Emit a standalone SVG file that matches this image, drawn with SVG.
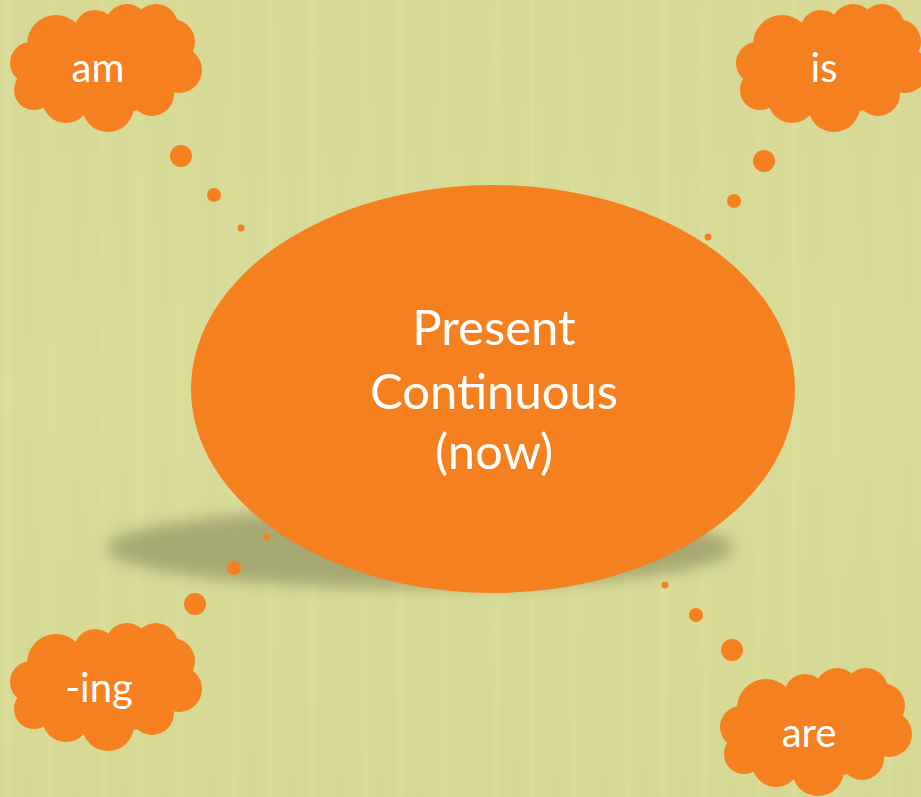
<svg xmlns="http://www.w3.org/2000/svg" width="921" height="797" viewBox="0 0 921 797">
  <style>
    .org { fill: #f5801f; }
    .lbl { font-family: Lato, "Open Sans", "Liberation Sans", sans-serif; fill: #ffffff; text-anchor: middle; }
    .cl { font-size: 40px; }
    .main { font-size: 49px; }
  </style>
  <defs>
    <filter id="blur" x="-20%" y="-50%" width="140%" height="200%">
      <feGaussianBlur stdDeviation="8"/>
    </filter>
    <filter id="soft" x="0" y="0" width="100%" height="100%">
      <feGaussianBlur stdDeviation="2 0"/>
    </filter>
    <linearGradient id="bg" x1="0" y1="0" x2="0" y2="1">
      <stop offset="0" stop-color="#d7da96"/>
      <stop offset="0.5" stop-color="#d9dc98"/>
      <stop offset="1" stop-color="#d6d993"/>
    </linearGradient>
    <pattern id="streaks" x="0" y="0" width="131" height="797" patternUnits="userSpaceOnUse">
      <rect x="6" y="0" width="4" height="797" fill="#e4e7a4" opacity="0.35"/>
      <rect x="29" y="0" width="2" height="797" fill="#c8cb88" opacity="0.25"/>
      <rect x="47" y="0" width="6" height="797" fill="#e2e5a2" opacity="0.3"/>
      <rect x="78" y="0" width="2" height="797" fill="#cacd8a" opacity="0.25"/>
      <rect x="101" y="0" width="5" height="797" fill="#e3e6a3" opacity="0.3"/>
      <rect x="120" y="0" width="2" height="797" fill="#c9cc89" opacity="0.2"/>
    </pattern>
    <g id="cloud">
      <circle cx="21" cy="59" r="21"/>
      <circle cx="24" cy="86" r="20"/>
      <circle cx="56" cy="95" r="24"/>
      <circle cx="98" cy="102" r="26"/>
      <circle cx="142" cy="90" r="22"/>
      <circle cx="169" cy="66" r="23"/>
      <circle cx="162" cy="38" r="23"/>
      <circle cx="146" cy="22" r="22"/>
      <circle cx="117" cy="22" r="22"/>
      <circle cx="85" cy="27" r="21"/>
      <circle cx="46" cy="40" r="29"/>
      <ellipse cx="95" cy="64" rx="80" ry="46"/>
    </g>
  </defs>

  <rect width="921" height="797" fill="url(#bg)"/>
  <rect width="921" height="797" fill="url(#streaks)" filter="url(#soft)"/>

  <ellipse id="shadow" cx="420" cy="548" rx="314" ry="40" fill="#8f9060" opacity="0.68" filter="url(#blur)"/>

  <g id="main-node">
    <ellipse class="org" cx="493" cy="389" rx="302" ry="204"/>
    <text class="lbl main" x="494" y="345">Present</text>
    <text class="lbl main" x="494" y="409">Continuous</text>
    <text class="lbl main" x="494" y="469">(now)</text>
  </g>

  <g id="connectors" class="org">
    <circle cx="181" cy="156" r="11"/>
    <circle cx="214" cy="195" r="7"/>
    <circle cx="241" cy="228" r="3.5"/>
    <circle cx="764" cy="161" r="11"/>
    <circle cx="734" cy="201" r="7"/>
    <circle cx="708" cy="237" r="3.5"/>
    <circle cx="195" cy="604" r="11"/>
    <circle cx="234" cy="568" r="7"/>
    <circle cx="267" cy="537" r="3.5"/>
    <circle cx="732" cy="650" r="11"/>
    <circle cx="696" cy="615" r="7"/>
    <circle cx="665" cy="585" r="3.5"/>
  </g>

  <g id="node-am">
    <use href="#cloud" class="org" x="10" y="4"/>
    <text class="lbl cl" x="98" y="82">am</text>
  </g>
  <g id="node-is">
    <use href="#cloud" class="org" x="736" y="4"/>
    <text class="lbl cl" x="824" y="82">is</text>
  </g>
  <g id="node-ing">
    <use href="#cloud" class="org" x="10" y="623"/>
    <text class="lbl cl" x="99" y="702">-ing</text>
  </g>
  <g id="node-are">
    <use href="#cloud" class="org" x="720" y="668"/>
    <text class="lbl cl" x="809" y="747">are</text>
  </g>
</svg>
